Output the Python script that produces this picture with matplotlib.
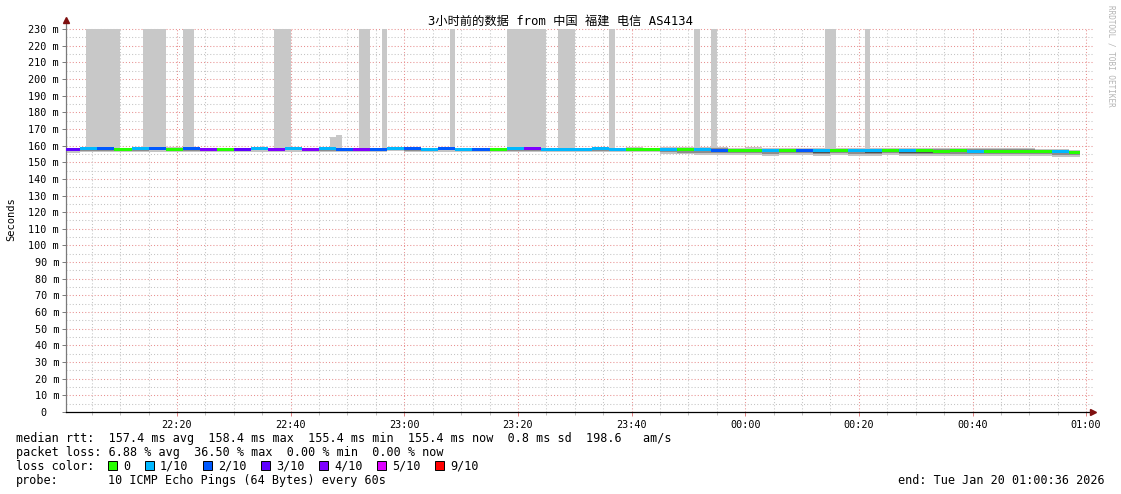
import numpy as np
import matplotlib.pyplot as plt
from matplotlib.patches import Rectangle

# median rtt per 3-minute chunk (minutes after 22:00)
chunk_len = 3
median_ms = [157.6, 158.0, 158.1, 157.9, 158.0, 158.2, 157.9, 158.0, 157.7, 157.7,
             157.8, 158.2, 157.8, 158.0, 157.9, 158.0, 157.8, 157.9, 157.9, 158.1,
             158.0, 157.9, 158.0, 157.9, 157.8, 157.7, 158.0, 158.0, 157.8, 157.9,
             157.8, 158.0, 157.9, 157.9, 157.8, 157.6, 157.5, 157.7, 157.3, 157.2,
             157.1, 157.0, 157.2, 157.0, 156.9, 157.0, 156.9, 156.8, 157.0, 156.8,
             156.9, 156.7, 156.9, 156.7, 156.6, 156.7, 156.6, 156.5, 156.4, 156.0]
# loss class per chunk: 0 -> "0", 1 -> "1/10", 2 -> "2/10" ...
loss_idx = [3, 1, 2, 0, 1, 2, 0, 2, 4, 0, 3, 1, 4, 1, 4, 1,
            2, 4, 2, 1, 2, 1, 2, 1, 2, 0, 1, 4, 1, 1,
            1, 1, 1, 0, 0, 1, 0, 1, 2, 0, 0, 1, 0, 2, 1,
            0, 1, 1, 0, 1, 0, 0, 0, 1, 0, 0, 0, 0, 1, 0]
# smoke spread below / above median
smoke_down = [1.9, 1.7, 1.8, 1.6, 1.8, 1.9, 1.6, 1.7, 1.8, 1.6,
              1.8, 1.9, 1.7, 1.6, 1.8, 1.7, 1.6, 1.8, 1.7, 1.6,
              1.7, 1.8, 1.6, 1.7, 1.8, 1.6, 1.7, 1.8, 1.6, 1.7,
              1.6, 1.8, 1.7, 1.6, 1.8, 2.6, 2.8, 3.2, 3.0, 2.8,
              2.6, 3.0, 2.8, 2.7, 3.2, 2.8, 3.0, 2.8, 2.6, 2.9,
              3.1, 2.8, 3.0, 3.2, 2.8, 3.0, 3.1, 2.9, 3.0, 2.6]
smoke_up = [0.9, 0.8, 1.0, 0.9, 0.8, 0.9, 1.0, 0.8, 0.9, 0.9,
            0.8, 1.0, 0.9, 0.8, 0.9, 1.0, 0.8, 0.9, 0.9, 0.8,
            1.0, 0.9, 0.8, 0.9, 1.0, 0.8, 0.9, 0.9, 0.8, 0.9,
            0.9, 1.0, 0.9, 1.0, 0.9, 1.3, 1.6, 1.5, 1.7, 1.6,
            1.8, 1.6, 1.5, 1.7, 1.9, 1.6, 1.8, 1.7, 1.6, 1.9,
            1.7, 1.6, 1.8, 1.6, 1.9, 1.7, 1.8, 1.6, 1.7, 1.5]
data_end = 179

# tall smoke columns (start min, end min, top ms)
spike_start = [4, 14, 21, 37, 47, 48, 52, 56, 68, 78, 87, 96, 111, 114, 134, 141]
spike_end = [10, 18, 23, 40, 48, 49, 54, 57, 69, 85, 90, 97, 112, 115, 136, 142]
spike_top = [230, 230, 230, 230, 165.3, 166.4, 230, 230, 230, 230, 230, 230, 230, 230, 230, 230]

loss_labels = ["0", "1/10", "2/10", "3/10", "4/10", "5/10", "9/10"]
loss_colors = ["#26ff00", "#00b8ff", "#0059ff", "#5e00ff", "#7e00ff", "#dd00ff", "#ff0000"]

x_ticks = [20, 40, 60, 80, 100, 120, 140, 160, 180]
x_labels = ["22:20", "22:40", "23:00", "23:20", "23:40", "00:00", "00:20", "00:40", "01:00"]

title = "3小时前的数据 from 中国 福建 电信 AS4134"
stats_rtt = "median rtt:  157.4 ms avg  158.4 ms max  155.4 ms min  155.4 ms now  0.8 ms sd  198.6   am/s"
stats_loss = "packet loss: 6.88 % avg  36.50 % max  0.00 % min  0.00 % now"
probe_txt = "10 ICMP Echo Pings (64 Bytes) every 60s"
end_txt = "end: Tue Jan 20 01:00:36 2026"

MONO = ["DejaVu Sans Mono", "Noto Sans CJK SC"]
plt.rcParams["font.family"] = MONO

W, H = 1121, 494
fig = plt.figure(figsize=(W / 100, H / 100), dpi=100)
ax = fig.add_axes([66 / W, (H - 412) / H, (1093 - 66) / W, (412 - 20) / H])
ax.set_xlim(0.47, 181.2)
ax.set_ylim(0, 235.4)

def fpos(x, y):
    return x / W, 1 - y / H

# grid
dot = (0, (1, 2))
for v in range(5, 230, 10):
    ax.plot([0.47, 181.2], [v, v], color="#c4c4c4", lw=0.75, ls=dot, zorder=0)
for v in range(10, 231, 10):
    ax.plot([0.47, 181.2], [v, v], color="#e89090", lw=0.75, ls=dot, zorder=0)
for m in range(5, 181, 5):
    if m % 20:
        ax.plot([m, m], [0, 230], color="#c4c4c4", lw=0.75, ls=dot, zorder=0)
for m in x_ticks:
    ax.plot([m, m], [0, 230], color="#e89090", lw=0.75, ls=dot, zorder=0)

starts = np.arange(len(median_ms)) * chunk_len
widths = np.minimum(starts + chunk_len, data_end) - starts
med = np.array(median_ms)
down = np.array(smoke_down)
up = np.array(smoke_up)

# tall columns
for s, e, top in zip(spike_start, spike_end, spike_top):
    base = median_ms[s // chunk_len]
    ax.bar(s, top - base, width=e - s, bottom=base, align="edge",
           color="#c8c8c8", lw=0, zorder=1)

# smoke layers
ax.bar(starts, down + up, width=widths, bottom=med - down, align="edge",
       color="#c4c4c4", lw=0, zorder=2)
ax.bar(starts, (down + up) * 0.6, width=widths, bottom=med - down * 0.6,
       align="edge", color="#8c8c8c", lw=0, zorder=3)
ax.bar(starts, (down + up) * 0.25, width=widths, bottom=med - down * 0.35,
       align="edge", color="#505050", lw=0, zorder=4)

# median line coloured by loss
ax.bar(starts, 1.8, width=widths, bottom=med - 0.9, align="edge",
       color=[loss_colors[i] for i in loss_idx], lw=0, zorder=5)

# axes and ticks
for side in ["top", "right"]:
    ax.spines[side].set_visible(False)
ax.spines["left"].set_color("#7a7a7a")
ax.spines["left"].set_linewidth(0.9)
ax.spines["bottom"].set_color("black")
ax.spines["bottom"].set_linewidth(0.9)
ax.plot(0.47, 235.4, marker="^", ms=4, color="#7f1010", clip_on=False, zorder=10)
ax.plot(181.2, 0, marker=">", ms=4, color="#7f1010", clip_on=False, zorder=10)

yt = list(range(0, 231, 10))
ax.set_yticks(yt)
ax.set_yticklabels(["0  " if v == 0 else f"{v} m" for v in yt], fontsize=7.3)
ax.set_xticks(x_ticks)
ax.set_xticklabels(x_labels, fontsize=7.3)
ax.set_xticks(range(5, 181, 5), minor=True)
ax.tick_params(axis="y", length=3, width=0.7, color="#7a7a7a", pad=2)
ax.tick_params(axis="x", which="major", length=3, width=0.7, color="#e08080", pad=3)
ax.tick_params(axis="x", which="minor", length=2, width=0.7, color="#c0c0c0")

fig.text(*fpos(560, 21), title, ha="center", va="center", fontsize=8.8, family=MONO)
fig.text(*fpos(11, 219), "Seconds", ha="center", va="center", rotation=90, fontsize=7.5)
fig.text(*fpos(1111, 5), "RRDTOOL / TOBI OETIKER", ha="center", va="top",
         rotation=270, fontsize=5.5, color="#b4b4b4")

fs = 8.45
fig.text(*fpos(16, 438), stats_rtt, ha="left", va="center", fontsize=fs)
fig.text(*fpos(16, 452), stats_loss, ha="left", va="center", fontsize=fs)
fig.text(*fpos(16, 466), "loss color:", ha="left", va="center", fontsize=fs)
box_x = [108, 145, 203, 261, 319, 377, 435]
for bx, lab, col in zip(box_x, loss_labels, loss_colors):
    fig.patches.append(Rectangle(fpos(bx, 470), 9 / W, 9 / H, transform=fig.transFigure,
                                 facecolor=col, edgecolor="black", lw=0.7))
    fig.text(*fpos(bx + 15, 466), lab, ha="left", va="center", fontsize=fs)
fig.text(*fpos(16, 480), "probe:", ha="left", va="center", fontsize=fs)
fig.text(*fpos(108, 480), probe_txt, ha="left", va="center", fontsize=fs)
fig.text(*fpos(1105, 480), end_txt, ha="right", va="center", fontsize=fs)

fig.savefig("out.png", dpi=100)
